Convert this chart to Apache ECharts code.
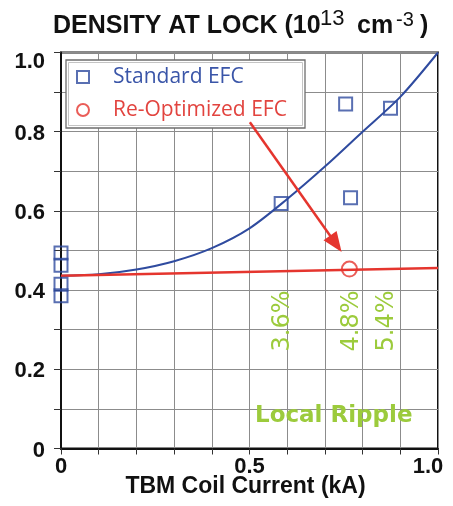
<!DOCTYPE html>
<html><head><meta charset="utf-8">
<script src="https://cdn.jsdelivr.net/npm/echarts@6/dist/echarts.min.js"></script>
<style>html,body{margin:0;padding:0;background:#fff}#c{width:453px;height:506px}</style>
</head><body><div id="c"></div>
<script>
// ---- data ----
const standardX = [0, 0, 0, 0, 0.584, 0.755, 0.768, 0.874];
const standardY = [0.494, 0.463, 0.415, 0.386, 0.619, 0.870, 0.633, 0.859];
const reoptX = [0.765];
const reoptY = [0.453];
const standardFitX = [0, 0.1, 0.2, 0.3, 0.4, 0.5, 0.6, 0.7, 0.8, 0.9, 1.0];
const standardFitY = [0.436, 0.440, 0.452, 0.473, 0.506, 0.556, 0.630, 0.712, 0.800, 0.888, 1.0];
const reoptFitX = [0, 1.0];
const reoptFitY = [0.436, 0.456];
const arrowFrom = [0.501, 0.824];
const arrowTo = [0.729, 0.517];
const xTickValues = [0, 0.5, 1.0];
const xTickLabels = ['0', '0.5', '1.0'];
const yTickValues = [0, 0.2, 0.4, 0.6, 0.8, 1.0];
const yTickLabels = ['0', '0.2', '0.4', '0.6', '0.8', '1.0'];
const rippleLabels = ['3.6%', '4.8%', '5.4%'];
const seriesNames = ['Standard EFC', 'Re-Optimized EFC'];

const BLUE = '#2f4b9f', BLUE_TXT = '#3a55a8', RED = '#e5352e', RED_TXT = '#e2443f', GREEN = '#9ccb3c';
const zip = (a, b) => a.map((v, i) => [v, b[i]]);
const findLabel = (vals, labs, v) => { const i = vals.findIndex(t => Math.abs(t - v) < 1e-6); return i < 0 ? '' : labs[i]; };

const chart = echarts.init(document.getElementById('c'), null, {renderer: 'canvas'});
const boldFont = 'Liberation Sans';
const txt = (x, y, text, font, fill, align, extra) => Object.assign({type: 'text', z: 10, x: x, y: y,
  style: {text: text, font: font, fill: fill, align: align, verticalAlign: 'middle', textAlign: align, textVerticalAlign: 'middle'}}, extra || {});
const option = {
  animation: false,
  backgroundColor: '#fff',
  grid: {left: 61, right: 15, top: 52.5, bottom: 57.5, show: true, borderColor: '#111', borderWidth: 2, containLabel: false},
  xAxis: {
    type: 'value', min: 0, max: 1, interval: 0.1,
    axisLine: {show: true, onZero: false, lineStyle: {color: '#111', width: 2}},
    axisTick: {show: true, inside: false, length: 6, lineStyle: {color: '#333', width: 1}},
    splitLine: {show: true, lineStyle: {color: '#8c8c8c', width: 1}},
    axisLabel: {
      margin: 7, color: '#111', fontFamily: boldFont, fontWeight: 'bold', fontSize: 22,
      formatter: v => { const s = findLabel(xTickValues, xTickLabels, v); if (!s) return ''; return Math.abs(v - 1) < 1e-6 ? '{r|' + s + '}' : s; },
      rich: {r: {fontFamily: boldFont, fontWeight: 'bold', fontSize: 22, color: '#111', padding: [0, 20, 0, 0]}}
    }
  },
  yAxis: {
    type: 'value', min: 0, max: 1, interval: 0.1,
    axisLine: {show: true, onZero: false, lineStyle: {color: '#111', width: 2}},
    axisTick: {show: true, inside: false, length: 7, lineStyle: {color: '#333', width: 1}},
    splitLine: {show: true, lineStyle: {color: '#8c8c8c', width: 1}},
    axisLabel: {
      margin: 16, color: '#111', fontFamily: boldFont, fontWeight: 'bold', fontSize: 22,
      formatter: v => { const s = findLabel(yTickValues, yTickLabels, v); if (!s) return ''; return Math.abs(v - 1) < 1e-6 ? '{t|' + s + '}' : '{a|' + s + '}'; },
      rich: {
        a: {fontFamily: boldFont, fontWeight: 'bold', fontSize: 22, color: '#111', padding: [4, 0, 0, 0]},
        t: {fontFamily: boldFont, fontWeight: 'bold', fontSize: 22, color: '#111', padding: [18, 0, 0, 0]}
      }
    }
  },
  legend: {
    orient: 'vertical', left: 76, top: 65, itemWidth: 12, itemHeight: 12, itemGap: 9, padding: 0,
    z: 6, selectedMode: false,
    textStyle: {fontFamily: 'Open Sans', fontSize: 21, lineHeight: 24, padding: [0, 0, 0, 19]},
    data: [
      {name: seriesNames[0], icon: 'rect', itemStyle: {color: '#fff', borderColor: BLUE, borderWidth: 2}, textStyle: {color: BLUE_TXT}},
      {name: seriesNames[1], icon: 'circle', itemStyle: {color: '#fff', borderColor: RED, borderWidth: 2}, textStyle: {color: RED_TXT}}
    ]
  },
  series: [
    {type: 'line', name: 'fitStd', data: zip(standardFitX, standardFitY), smooth: 0.3, showSymbol: false,
     lineStyle: {color: BLUE, width: 2}, itemStyle: {color: BLUE}, z: 2, silent: true},
    {type: 'line', name: 'fitRe', data: zip(reoptFitX, reoptFitY), showSymbol: false,
     lineStyle: {color: RED, width: 2.5}, itemStyle: {color: RED}, z: 2, silent: true},
    {type: 'scatter', name: seriesNames[0], data: zip(standardX, standardY), symbol: 'rect', symbolSize: 13, clip: false,
     itemStyle: {color: 'rgba(255,255,255,0)', borderColor: BLUE, borderWidth: 2}, z: 3, silent: true},
    {type: 'scatter', name: seriesNames[1], data: zip(reoptX, reoptY), symbol: 'circle', symbolSize: 15, clip: false,
     itemStyle: {color: 'rgba(255,255,255,0)', borderColor: RED, borderWidth: 2}, z: 3, silent: true},
    {type: 'line', name: 'arrow', data: [], z: 8, silent: true,
     markLine: {silent: true, symbol: ['none', 'triangle'], symbolSize: [16, 20], animation: false,
       lineStyle: {color: RED, width: 2.5, type: 'solid'}, label: {show: false}, emphasis: {disabled: true},
       data: [[{coord: arrowFrom}, {coord: arrowTo}]]}}
  ],
  graphic: [
    {type: 'rect', z: 4, shape: {x: 66, y: 60, width: 239, height: 68}, style: {fill: '#fff', stroke: '#6e6e6e', lineWidth: 1.3}},
    {type: 'rect', z: 4, shape: {x: 68.5, y: 62.5, width: 234, height: 63}, style: {fill: 'none', stroke: '#c4c4c4', lineWidth: 1}},
    // title
    txt(53, 26.5, 'DENSITY AT LOCK (10', 'bold 25px "Liberation Sans"', '#111', 'left'),
    txt(320, 19.2, '13', '22px "Liberation Sans"', '#111', 'left'),
    txt(357, 26.5, 'cm', 'bold 25px "Liberation Sans"', '#111', 'left'),
    txt(396, 20.2, '-3', '20px "Liberation Sans"', '#111', 'left'),
    txt(420, 26.5, ')', 'bold 25px "Liberation Sans"', '#111', 'left'),
    // x axis name
    txt(245.5, 487, 'TBM Coil Current (kA)', 'bold 23px "Liberation Sans"', '#111', 'center'),
    // local ripple annotations
    txt(282.5, 321, rippleLabels[0], '24px "DejaVu Sans"', GREEN, 'center', {z: 1, rotation: Math.PI / 2}),
    txt(351.7, 321, rippleLabels[1], '24px "DejaVu Sans"', GREEN, 'center', {z: 1, rotation: Math.PI / 2}),
    txt(386.7, 321, rippleLabels[2], '24px "DejaVu Sans"', GREEN, 'center', {z: 1, rotation: Math.PI / 2}),
    txt(255, 416.5, 'Local Ripple', 'bold 23px "DejaVu Sans"', GREEN, 'left', {z: 1})
  ]
};
chart.setOption(option);
</script>
</body></html>
